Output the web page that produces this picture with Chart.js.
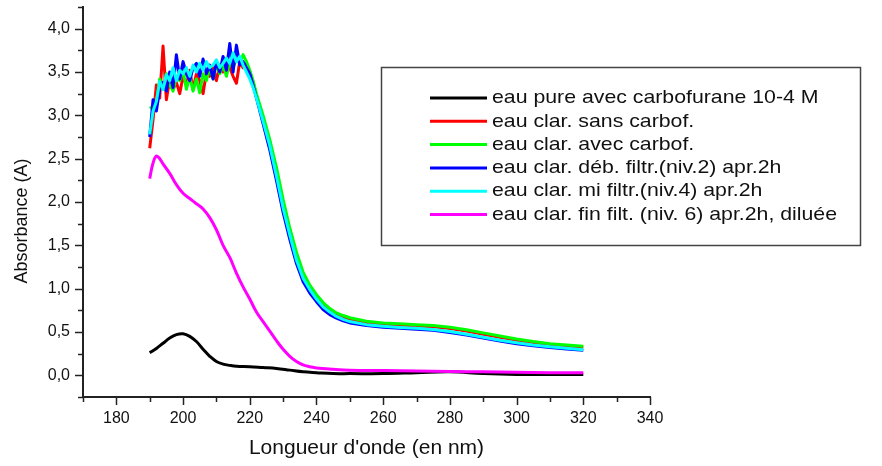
<!DOCTYPE html>
<html lang="fr">
<head>
<meta charset="UTF-8">
<title>Absorbance</title>
<script src="https://cdn.jsdelivr.net/npm/chart.js"></script>
<style>
  html, body { margin: 0; padding: 0; background: #fff; }
  #wrap { width: 882px; height: 466px; }
</style>
</head>
<body>
<div id="wrap"><canvas id="absChart" width="882" height="466"></canvas></div>
<script>
// longueurs d'onde communes aux 4 courbes bruitées
const wl = [190,191,192,193,194,195,196,197,198,199,200,201,202,203,204,205,206,207,208,209,210,
  211,212,213,214,215,216,217,218,219,220,221,222,
  224,226,228,230,232,234,236,238,240,242,244,246,248,250,
  255,260,265,270,275,280,285,290,295,300,305,310,315,320];

const redVals = [2.62,2.95,3.35,3.20,3.80,3.18,3.42,3.30,3.38,3.25,3.45,3.35,3.52,3.30,3.48,3.40,3.25,3.50,3.45,3.55,3.40,
  3.58,3.50,3.62,3.55,3.45,3.37,3.62,3.55,3.60,3.50,3.38,3.22,
  2.96,2.68,2.35,1.98,1.66,1.37,1.15,1.01,0.90,0.81,0.75,0.70,0.67,0.645,
  0.610,0.590,0.580,0.570,0.560,0.540,0.510,0.475,0.440,0.405,0.375,0.352,0.338,0.325];

const greenVals = [3.08,3.10,3.15,3.42,3.30,3.48,3.35,3.28,3.45,3.40,3.52,3.30,3.45,3.28,3.42,3.26,3.48,3.40,3.55,3.42,3.60,
  3.48,3.58,3.45,3.62,3.55,3.65,3.60,3.70,3.62,3.52,3.40,3.25,
  3.00,2.72,2.40,2.03,1.70,1.42,1.19,1.04,0.93,0.84,0.77,0.72,0.69,0.665,
  0.625,0.605,0.595,0.585,0.575,0.555,0.525,0.490,0.455,0.420,0.390,0.365,0.350,0.335];

const blueVals = [2.75,3.18,3.05,3.30,3.38,3.28,3.50,3.32,3.70,3.42,3.62,3.48,3.40,3.55,3.60,3.45,3.65,3.48,3.58,3.42,3.62,
  3.50,3.68,3.52,3.83,3.50,3.81,3.58,3.62,3.55,3.48,3.35,3.20,
  2.90,2.60,2.25,1.88,1.57,1.29,1.08,0.95,0.85,0.76,0.70,0.66,0.63,0.605,
  0.575,0.555,0.543,0.533,0.520,0.495,0.465,0.430,0.395,0.365,0.340,0.320,0.303,0.288];

const cyanVals = [2.78,3.05,3.16,3.39,3.30,3.47,3.40,3.55,3.40,3.52,3.48,3.55,3.45,3.58,3.50,3.60,3.52,3.62,3.55,3.58,3.64,
  3.55,3.60,3.66,3.60,3.72,3.62,3.68,3.58,3.50,3.42,3.32,3.20,
  2.93,2.65,2.30,1.93,1.62,1.33,1.12,0.99,0.88,0.79,0.73,0.68,0.645,0.62,
  0.585,0.565,0.553,0.543,0.530,0.505,0.475,0.440,0.405,0.375,0.350,0.330,0.312,0.296];

// eau pure + carbofurane
const wlBlack = [190,192,194,196,198,200,202,204,206,208,210,212,214,216,220,224,228,232,236,240,245,250,260,270,280,290,300,310,320];
const blackVals = [0.26,0.31,0.37,0.43,0.47,0.48,0.45,0.39,0.30,0.22,0.16,0.13,0.115,0.105,0.10,0.09,0.08,0.06,0.04,0.03,0.02,0.02,0.02,0.03,0.04,0.02,0.01,0.01,0.01];

// fin filtration, diluée
const wlMagenta = [190,191,192,193,194,196,198,200,202,204,206,208,210,212,214,216,218,220,222,224,226,228,230,232,234,236,238,240,245,250,260,270,280,290,300,310,320];
const magentaVals = [2.27,2.45,2.53,2.50,2.44,2.33,2.20,2.10,2.04,1.98,1.92,1.82,1.68,1.50,1.36,1.18,1.02,0.88,0.73,0.62,0.51,0.40,0.30,0.22,0.16,0.12,0.10,0.085,0.07,0.06,0.055,0.05,0.045,0.04,0.035,0.03,0.03];

const seriesLabels = [
  'eau pure avec carbofurane 10-4 M',
  'eau clar. sans carbof.',
  'eau clar. avec carbof.',
  'eau clar. déb. filtr.(niv.2) apr.2h',
  'eau clar. mi filtr.(niv.4) apr.2h',
  'eau clar. fin filt. (niv. 6) apr.2h, diluée'
];
const seriesColors = ['#000000', '#ff0000', '#00ff00', '#0000ff', '#00ffff', '#ff00ff'];

const xTicksMin = 170, xTicksMax = 340;
const yTicksMin = -0.25, yTicksMax = 4.25;

function pairs(xs, ys) {
  return xs.map((x, i) => ({ x: x, y: ys[i] }));
}

const allData = [
  pairs(wlBlack, blackVals),
  pairs(wl, redVals),
  pairs(wl, greenVals),
  pairs(wl, blueVals),
  pairs(wl, cyanVals),
  pairs(wlMagenta, magentaVals)
];

const datasets = allData.map((d, i) => ({
  label: seriesLabels[i],
  data: d,
  borderColor: seriesColors[i],
  backgroundColor: seriesColors[i],
  borderWidth: 3,
  borderJoinStyle: 'round',
  pointRadius: 0,
  fill: false,
  tension: (i === 0 || i === 5) ? 0.4 : 0,
  order: 6 - i
}));

// petits traits de graduation (majeurs / mineurs)
const tickMarks = {
  id: 'tickMarks',
  afterDraw(chart) {
    const ctx = chart.ctx;
    const xs = chart.scales.x, ys = chart.scales.y;
    const area = chart.chartArea;
    ctx.save();
    ctx.strokeStyle = '#222';
    ctx.lineWidth = 1.5;
    xs.ticks.forEach(t => {
      const px = Math.round(xs.getPixelForValue(t.value)) + 0.5;
      const len = (t.value % 20 === 0) ? 8 : 5;
      ctx.beginPath();
      ctx.moveTo(px, area.bottom);
      ctx.lineTo(px, area.bottom + len);
      ctx.stroke();
    });
    ys.ticks.forEach(t => {
      const py = Math.round(ys.getPixelForValue(t.value)) + 0.5;
      const major = Math.abs(t.value * 2 - Math.round(t.value * 2)) < 1e-6;
      const len = major ? 8 : 5;
      ctx.beginPath();
      ctx.moveTo(area.left, py);
      ctx.lineTo(area.left - len, py);
      ctx.stroke();
    });
    // titre de l'axe Y
    ctx.fillStyle = '#111';
    ctx.font = '18px "Liberation Sans", Arial, sans-serif';
    ctx.textAlign = 'center';
    ctx.textBaseline = 'middle';
    ctx.translate(22, 221);
    ctx.rotate(-Math.PI / 2);
    ctx.fillText('Absorbance (A)', 0, 0);
    ctx.restore();
  }
};

// légende encadrée comme dans Origin
const boxLegend = {
  id: 'boxLegend',
  afterDraw(chart) {
    const ctx = chart.ctx;
    const bx = 381, by = 67, bw = 479, bh = 178;
    ctx.save();
    ctx.fillStyle = '#fff';
    ctx.fillRect(bx, by, bw, bh);
    ctx.strokeStyle = '#444';
    ctx.lineWidth = 1.5;
    ctx.strokeRect(bx + 0.5, by + 0.5, bw, bh);
    ctx.font = '19px "Liberation Sans", Arial, sans-serif';
    ctx.textBaseline = 'middle';
    chart.data.datasets.forEach((ds, i) => {
      const y = 98 + i * 23.3;
      ctx.strokeStyle = ds.borderColor;
      ctx.lineWidth = 3;
      ctx.beginPath();
      ctx.moveTo(430, y);
      ctx.lineTo(487, y);
      ctx.stroke();
      // texte un peu élargi, comme l'export d'origine
      ctx.save();
      ctx.translate(492, y);
      ctx.scale(1.12, 1);
      ctx.fillStyle = '#111';
      ctx.fillText(ds.label, 0, 0);
      ctx.restore();
    });
    ctx.restore();
  }
};

const ctx = document.getElementById('absChart').getContext('2d');
new Chart(ctx, {
  type: 'line',
  data: { datasets: datasets },
  options: {
    responsive: false,
    animation: false,
    layout: { padding: { left: 0, right: 232, top: 7, bottom: 0 } },
    plugins: { legend: { display: false }, tooltip: { enabled: false } },
    scales: {
      x: {
        type: 'linear',
        min: xTicksMin,
        max: xTicksMax,
        afterFit: s => { s.height = 69; s.paddingLeft = 0; s.paddingRight = 0; },
        grid: { drawOnChartArea: false, drawTicks: false },
        border: { display: true, color: '#222', width: 2 },
        ticks: {
          stepSize: 10,
          autoSkip: false,
          maxRotation: 0,
          padding: 12,
          color: '#111',
          font: { family: '"Liberation Sans", Arial, sans-serif', size: 16 },
          callback: v => (v % 20 === 0 ? String(v) : '')
        },
        title: {
          display: true,
          text: "Longueur d'onde (en nm)",
          color: '#111',
          font: { family: '"Liberation Sans", Arial, sans-serif', size: 21 },
          padding: { top: 0, bottom: 5 }
        }
      },
      y: {
        type: 'linear',
        min: yTicksMin,
        max: yTicksMax,
        afterFit: s => { s.width = 83; s.paddingTop = 0; s.paddingBottom = 0; },
        grid: { drawOnChartArea: false, drawTicks: false },
        border: { display: true, color: '#222', width: 2 },
        ticks: {
          stepSize: 0.25,
          autoSkip: false,
          padding: 13,
          color: '#111',
          font: { family: '"Liberation Sans", Arial, sans-serif', size: 16 },
          callback: v => {
            const major = Math.abs(v * 2 - Math.round(v * 2)) < 1e-6;
            return (major && v > -0.1) ? v.toFixed(1).replace('.', ',') : '';
          }
        }
      }
    }
  },
  plugins: [tickMarks, boxLegend]
});
</script>
</body>
</html>
